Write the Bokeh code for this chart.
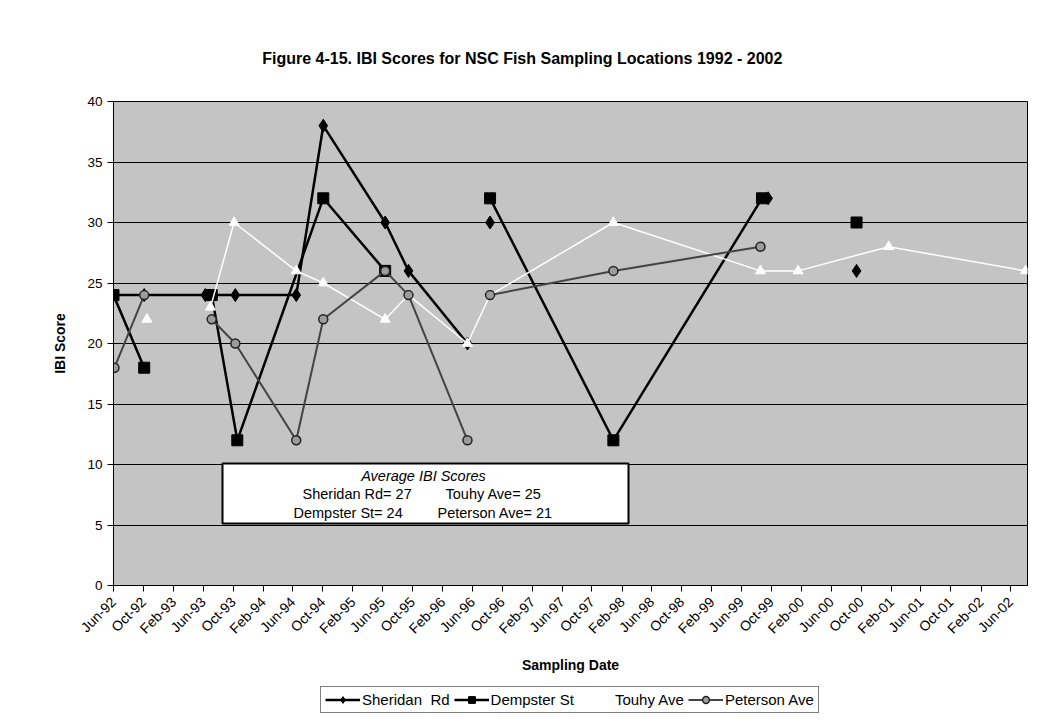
import math
import numpy as np
import pandas as pd
from bokeh.plotting import figure
from bokeh.layouts import column
from bokeh.models import (FixedTicker, DatetimeTickFormatter, Legend, LegendItem,
                          Range1d, Label, BoxAnnotation, ColumnDataSource)
from bokeh.embed import file_html
from bokeh.resources import INLINE

# ---------------- data ----------------
sheridan_dates = ["1992-06-01", "1992-10-04", "1993-06-10", "1993-10-10", "1994-06-15",
                  "1994-10-03", "1995-06-12", "1995-09-15", "1996-05-12", "1996-06-15",
                  "1996-08-12", "1997-06-01", "1999-09-18", "2000-03-01", "2000-09-12"]
sheridan = [24, 24, 24, 24, 24, 38, 30, 26, 20, None, 30, None, 32, None, 26]

dempster_dates = ["1992-06-01", "1992-10-04", "1993-02-01", "1993-07-06", "1993-10-18",
                  "1994-10-03", "1995-06-12", "1996-01-01", "1996-08-12", "1997-12-27",
                  "1999-08-24", "2000-03-01", "2000-09-12"]
dempster = [24, 18, None, 24, 12, 32, 26, None, 32, 12, 32, None, 30]

touhy_dates = ["1992-10-15", "1993-02-01", "1993-07-01", "1993-10-05", "1994-06-15",
               "1994-10-03", "1995-06-12", "1995-09-15", "1996-05-12", "1996-08-12",
               "1997-12-27", "1999-08-18", "2000-01-18", "2001-01-21", "2002-08-01"]
touhy = [22, None, 23, 30, 26, 25, 22, 24, 20, 24, 30, 26, 26, 28, 26]

peterson_dates = ["1992-06-05", "1992-10-04", "1993-02-01", "1993-07-06", "1993-10-10",
                  "1994-06-15", "1994-10-03", "1995-06-12", "1995-09-15", "1996-05-12",
                  "1996-06-15", "1996-08-12", "1997-12-27", "1999-08-18"]
peterson = [18, 24, None, 22, 20, 12, 22, 26, 24, 12, None, 24, 26, 28]

series_names = ["Sheridan  Rd", "Dempster St", "Touhy Ave", "Peterson Ave"]
tick_start, tick_end = "1992-06-01", "2002-06-01"
x_min, x_max = "1992-06-01", "2002-08-09"
y_ticks = [0, 5, 10, 15, 20, 25, 30, 35, 40]

title_text = "Figure 4-15.  IBI Scores for NSC Fish Sampling Locations 1992 - 2002"
avg_title = "Average IBI Scores"
avg_lines = ["Sheridan Rd= 27", "Touhy Ave= 25", "Dempster St= 24", "Peterson Ave= 21"]

FONT = "Liberation Sans"
W = 1041
TITLE_H, MAIN_H, LEG_H = 75, 605, 43
FRAME_L, FRAME_R, FRAME_T, FRAME_B = 113, 1027, 101, 585   # page pixels


def src(dates, vals):
    return ColumnDataSource(dict(
        x=pd.to_datetime(dates),
        y=np.array([np.nan if v is None else v for v in vals], dtype=float)))


def ms(d):
    return pd.Timestamp(d).value / 1e6


X0, X1 = ms(x_min), ms(x_max)


def px_x(px):  # page pixel -> data x (layout helper for annotations)
    return X0 + (px - FRAME_L) / (FRAME_R - FRAME_L) * (X1 - X0)


def px_y(py):
    return (FRAME_B - py) / (FRAME_B - FRAME_T) * 40.0


ticks = [ms(d) for d in pd.date_range(tick_start, tick_end, freq="4MS")]


def strip(h):
    f = figure(width=W, height=h, output_backend="svg", toolbar_location=None,
               x_range=Range1d(FRAME_L, FRAME_R), y_range=Range1d(0, h),
               x_axis_location=None, y_axis_location=None,
               min_border_left=FRAME_L, min_border_right=W - FRAME_R,
               min_border_top=0, min_border_bottom=0)
    f.outline_line_color = None
    f.grid.visible = False
    f.background_fill_color = "white"
    f.border_fill_color = "white"
    return f


# ---------------- title strip ----------------
pt = strip(TITLE_H)
pt.add_layout(Label(x=524, y=TITLE_H - 58, text=title_text, text_align="center",
                    text_baseline="middle", text_font=FONT, text_font_size="16px",
                    text_font_style="bold", text_color="black"))

# ---------------- main chart ----------------
p = figure(width=W, height=MAIN_H, output_backend="svg", toolbar_location=None,
           x_axis_type="datetime",
           x_range=Range1d(X0, X1), y_range=Range1d(0, 40),
           min_border_left=FRAME_L, min_border_right=W - FRAME_R,
           min_border_top=FRAME_T - TITLE_H,
           min_border_bottom=MAIN_H - (FRAME_B - TITLE_H))

p.background_fill_color = "#c4c4c4"
p.border_fill_color = "white"
p.outline_line_color = "black"
p.outline_line_width = 1

p.xgrid.grid_line_color = None
p.ygrid.grid_line_color = "black"
p.ygrid.grid_line_width = 1
p.yaxis.ticker = FixedTicker(ticks=y_ticks)
p.xaxis.ticker = FixedTicker(ticks=ticks)
fmt = "%b-%y"
p.xaxis.formatter = DatetimeTickFormatter(milliseconds=fmt, seconds=fmt, minsec=fmt,
                                          minutes=fmt, hourmin=fmt, hours=fmt,
                                          days=fmt, months=fmt, years=fmt)
p.xaxis.major_label_orientation = math.pi / 4
for ax in (p.xaxis, p.yaxis):
    ax.axis_line_color = "black"
    ax.major_tick_line_color = "black"
    ax.major_tick_out = 6
    ax.major_tick_in = 0
    ax.minor_tick_line_color = None
    ax.major_label_text_font = FONT
    ax.major_label_text_color = "black"
    ax.axis_label_text_font = FONT
    ax.axis_label_text_font_size = "14px"
    ax.axis_label_text_font_style = "bold"
    ax.axis_label_text_color = "black"

p.xaxis.major_label_text_font_size = "14px"
p.yaxis.major_label_text_font_size = "13.5px"
p.yaxis.axis_label = "IBI Score"
p.yaxis.axis_label_standoff = 16
p.yaxis.major_label_standoff = 5
p.xaxis.axis_label = "Sampling Date"
p.xaxis.axis_label_standoff = 12
p.xaxis.major_label_standoff = 8

# series drawn in Excel order (later series on top)
s_sh = src(sheridan_dates, sheridan)
s_de = src(dempster_dates, dempster)
s_to = src(touhy_dates, touhy)
s_pe = src(peterson_dates, peterson)

STY = {
    "sh_line": dict(line_color="black", line_width=2.5),
    "sh_mark": dict(marker="diamond", size=13, fill_color="black", line_color="black"),
    "de_line": dict(line_color="black", line_width=2.5),
    "de_mark": dict(marker="square", size=11, fill_color="black", line_color="black"),
    "to_line": dict(line_color="white", line_width=1.5),
    "to_mark": dict(marker="triangle", size=10, fill_color="white", line_color="white"),
    "pe_line": dict(line_color="#444444", line_width=2),
    "pe_mark": dict(marker="circle", size=9, fill_color="#9c9c9c", line_color="#222222",
                    line_width=1.5),
}

p.line("x", "y", source=s_sh, **STY["sh_line"])
p.scatter("x", "y", source=s_sh, **STY["sh_mark"])
p.line("x", "y", source=s_de, **STY["de_line"])
p.scatter("x", "y", source=s_de, **STY["de_mark"])
p.line("x", "y", source=s_to, **STY["to_line"])
p.scatter("x", "y", source=s_to, **STY["to_mark"])
p.line("x", "y", source=s_pe, **STY["pe_line"])
p.scatter("x", "y", source=s_pe, **STY["pe_mark"])

# average box
box = BoxAnnotation(left=px_x(222), right=px_x(628), bottom=px_y(523), top=px_y(463),
                    fill_color="white", fill_alpha=1, line_color="black", line_alpha=1,
                    line_width=2)
p.add_layout(box)
p.add_layout(Label(x=px_x(423), y=px_y(475), text=avg_title, text_align="center",
                   text_baseline="middle", text_font=FONT, text_font_size="14.5px",
                   text_font_style="italic", text_color="black"))
pos = [(302, 493), (445, 493), (293, 512), (437, 512)]
for t, (xp, yp) in zip(avg_lines, pos):
    p.add_layout(Label(x=px_x(xp), y=px_y(yp), text=t, text_align="left",
                       text_baseline="middle", text_font=FONT, text_font_size="14.5px",
                       text_color="black"))

# ---------------- legend strip ----------------
pl = strip(LEG_H)
items = []
for name, key in zip(series_names, ["sh", "de", "to", "pe"]):
    rl = pl.line(x=[np.nan], y=[np.nan], **STY[key + "_line"])
    rm = pl.scatter(x=[np.nan], y=[np.nan], **STY[key + "_mark"])
    items.append(LegendItem(label=name, renderers=[rl, rm]))

legend = Legend(items=items, orientation="horizontal",
                location=(320 - FRAME_L, LEG_H - (713 - (TITLE_H + MAIN_H))))
legend.label_text_font = FONT
legend.label_text_font_size = "15px"
legend.label_text_color = "black"
legend.glyph_width = 35
legend.glyph_height = 17
legend.label_standoff = 2
legend.spacing = 4
legend.padding = 4
legend.margin = 0
legend.border_line_color = "black"
legend.border_line_width = 1
legend.background_fill_color = "white"
legend.background_fill_alpha = 1
legend.label_height = 17
pl.add_layout(legend)

layout = column(pt, p, pl, spacing=0)
open("out.html", "w").write(file_html(layout, INLINE))
